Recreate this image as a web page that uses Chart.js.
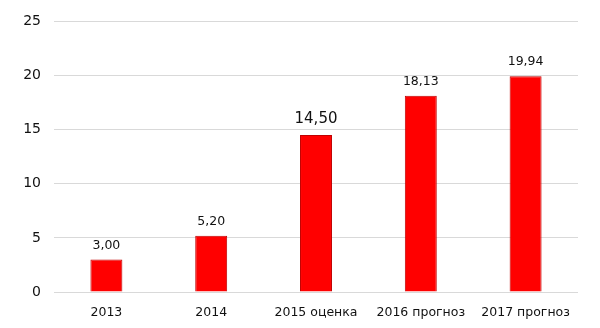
<!DOCTYPE html>
<html><head><meta charset="utf-8">
<script src="https://cdn.jsdelivr.net/npm/chart.js@4/dist/chart.umd.min.js"></script>
<style>html,body{margin:0;padding:0;background:#fff}#wrap{width:600px;height:328px}</style>
</head><body><div id="wrap"><canvas id="c" width="600" height="328"></canvas></div>
<script>
const categories = ["2013", "2014", "2015 оценка", "2016 прогноз", "2017 прогноз"];
const values = [3.00, 5.20, 14.50, 18.13, 19.94];
const valueLabels = ["3,00", "5,20", "14,50", "18,13", "19,94"];
const labelSizes = [12.5, 12.5, 15, 12.5, 12.5];
const yTicks = [0, 5, 10, 15, 20, 25];

const valuePlugin = {
  id: 'valueLabels',
  afterDatasetsDraw(chart) {
    const ctx = chart.ctx;
    const meta = chart.getDatasetMeta(0);
    ctx.save();
    ctx.fillStyle = '#111';
    ctx.textAlign = 'center';
    ctx.textBaseline = 'bottom';
    meta.data.forEach((bar, i) => {
      ctx.font = labelSizes[i] + 'px "DejaVu Sans"';
      ctx.fillText(valueLabels[i], bar.x, bar.y - 8);
    });
    ctx.restore();
  }
};

new Chart(document.getElementById('c'), {
  type: 'bar',
  data: {
    labels: categories,
    datasets: [{
      data: values,
      backgroundColor: '#ff0000',
      borderColor: '#c00000',
      borderWidth: 1,
      barPercentage: 1,
      categoryPercentage: 0.305
    }]
  },
  options: {
    responsive: false,
    animation: false,
    layout: { padding: { top: 19, right: 22, left: 0, bottom: 0 } },
    plugins: { legend: { display: false }, tooltip: { enabled: false } },
    scales: {
      x: {
        grid: { display: false },
        border: { display: false },
        ticks: { color: '#111', font: { family: 'DejaVu Sans', size: 12.5 }, padding: 5, maxRotation: 0 },
        afterFit(s) { s.height = 36; }
      },
      y: {
        min: 0, max: 25,
        afterBuildTicks(s) { s.ticks = yTicks.map(v => ({ value: v })); },
        grid: { color: '#d9d9d9', drawTicks: false },
        border: { display: false },
        ticks: { color: '#111', font: { family: 'DejaVu Sans', size: 14 }, padding: 13 },
        afterFit(s) { s.width = 54; }
      }
    }
  },
  plugins: [valuePlugin]
});
</script></body></html>
